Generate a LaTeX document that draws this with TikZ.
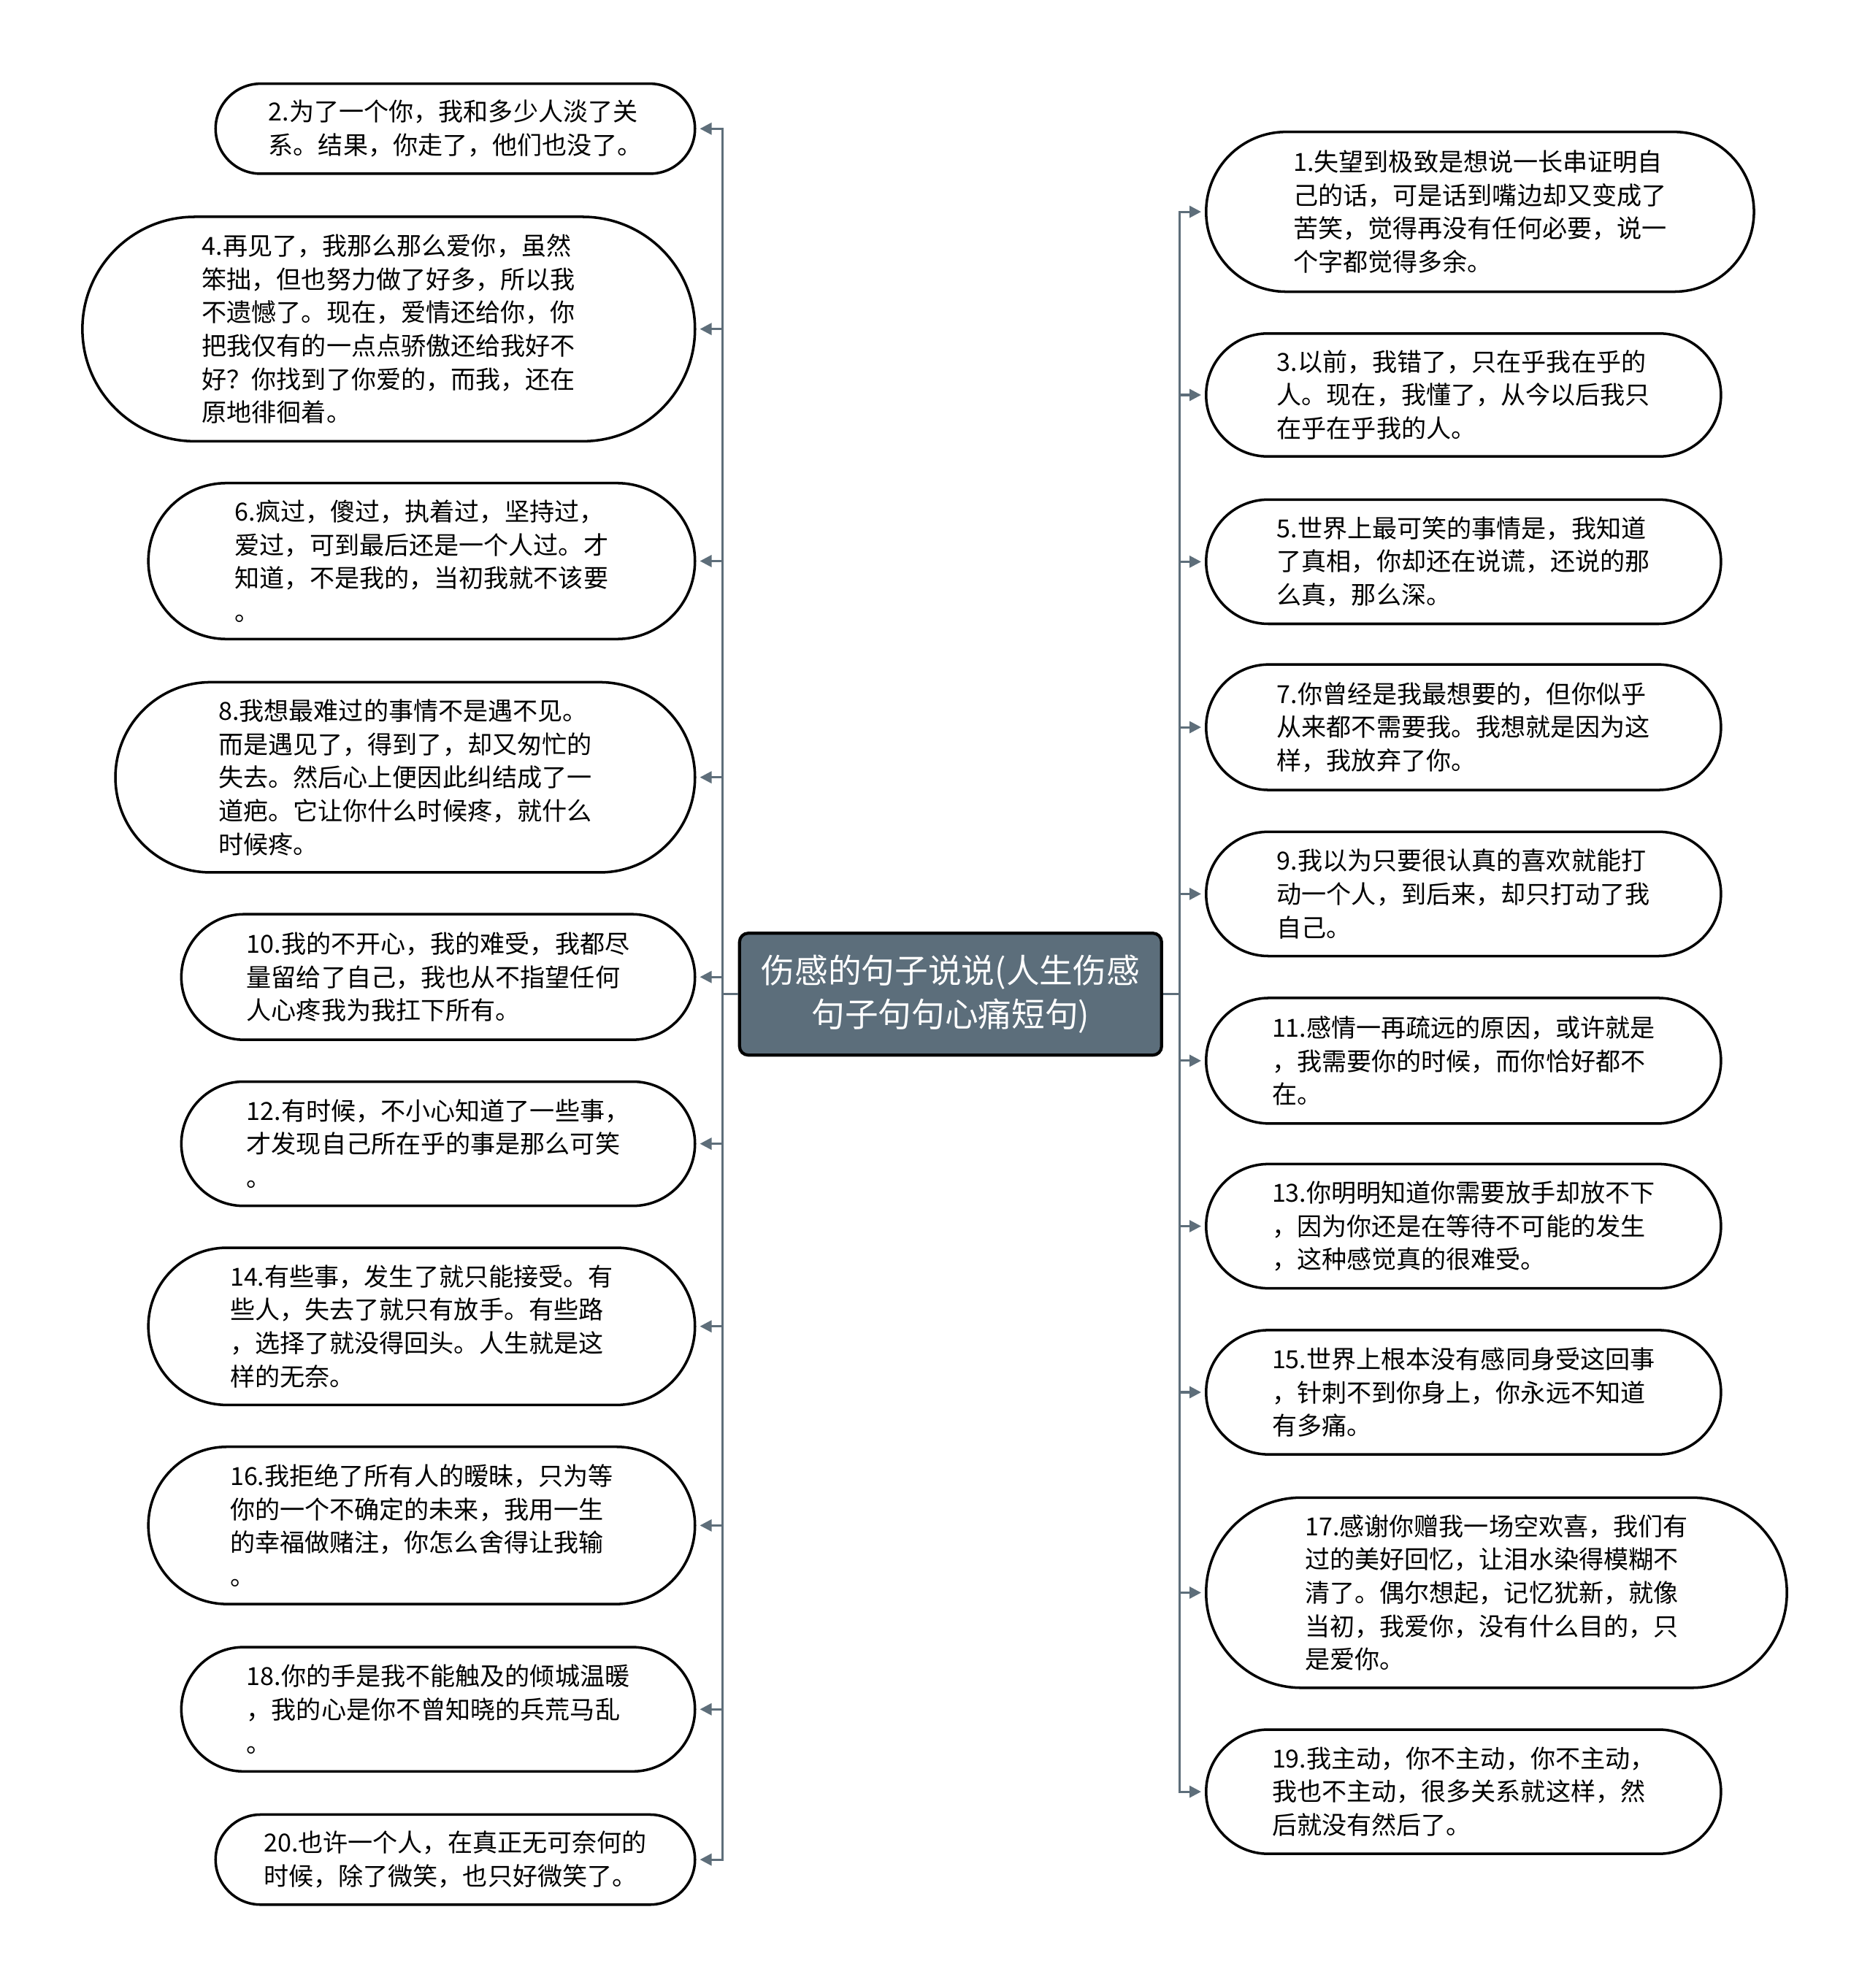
\documentclass[tikz,border=0pt]{standalone}
\usepackage{fontspec}
\newfontfamily\cjk{Noto Sans CJK SC}
\usepackage{xcolor}
\definecolor{tree-slate}{HTML}{5C6E7B}
\definecolor{tree-line}{HTML}{5E6E7A}
\usepackage{tikz}
\usetikzlibrary{calc,arrows.meta}

\begin{document}
\begin{tikzpicture}[
  font=\cjk,
  every node/.style={align=left},
  root/.style={rectangle, draw=black, line width=1.2pt, rounded corners=0.12cm, fill=tree-slate, text=white, align=center, inner sep=0pt, minimum width=5.78cm, minimum height=1.67cm, font=\cjk\fontsize{13pt}{16.8pt}\selectfont},
  leaf/.style 2 args={rectangle, draw=black, line width=1pt, fill=white, text=black, inner sep=0pt, minimum width=#1, minimum height=#2, rounded corners=0.5*#2, font=\cjk\fontsize{9.7pt}{13pt}\selectfont},
  link/.style={-{Triangle[length=0.16cm,width=0.16cm]}, line width=0.9pt, tree-line, shorten >=0.05cm}
]
  \useasboundingbox (0,0) rectangle (25.6,-27.23);

  \node[root] (root) at (13.018,-13.617) {伤感的句子说说(人生伤感\\句子句句心痛短句)};

  % left column
  \node[leaf={6.565cm}{1.233cm}, anchor=east] (n2) at (9.535,-1.763) {2.为了一个你，我和多少人淡了关\\系。结果，你走了，他们也没了。};
  \node[leaf={8.389cm}{3.074cm}, anchor=east] (n4) at (9.535,-4.507) {4.再见了，我那么那么爱你，虽然\\笨拙，但也努力做了好多，所以我\\不遗憾了。现在，爱情还给你，你\\把我仅有的一点点骄傲还给我好不\\好？你找到了你爱的，而我，还在\\原地徘徊着。};
  \node[leaf={7.486cm}{2.136cm}, anchor=east] (n6) at (9.535,-7.685) {6.疯过，傻过，执着过，坚持过，\\爱过，可到最后还是一个人过。才\\知道，不是我的，当初我就不该要\\。};
  \node[leaf={7.937cm}{2.605cm}, anchor=east] (n8) at (9.535,-10.647) {8.我想最难过的事情不是遇不见。\\而是遇见了，得到了，却又匆忙的\\失去。然后心上便因此纠结成了一\\道疤。它让你什么时候疼，就什么\\时候疼。};
  \node[leaf={7.034cm}{1.720cm}, anchor=east] (n10) at (9.535,-13.382) {10.我的不开心，我的难受，我都尽\\量留给了自己，我也从不指望任何\\人心疼我为我扛下所有。};
  \node[leaf={7.034cm}{1.702cm}, anchor=east] (n12) at (9.535,-15.666) {12.有时候，不小心知道了一些事，\\才发现自己所在乎的事是那么可笑\\。};
  \node[leaf={7.486cm}{2.154cm}, anchor=east] (n14) at (9.535,-18.167) {14.有些事，发生了就只能接受。有\\些人，失去了就只有放手。有些路\\，选择了就没得回头。人生就是这\\样的无奈。};
  \node[leaf={7.486cm}{2.154cm}, anchor=east] (n16) at (9.535,-20.894) {16.我拒绝了所有人的暧昧，只为等\\你的一个不确定的未来，我用一生\\的幸福做赌注，你怎么舍得让我输\\。};
  \node[leaf={7.034cm}{1.702cm}, anchor=east] (n18) at (9.535,-23.412) {18.你的手是我不能触及的倾城温暖\\，我的心是你不曾知晓的兵荒马乱\\。};
  \node[leaf={6.565cm}{1.233cm}, anchor=east] (n20) at (9.535,-25.471) {20.也许一个人，在真正无可奈何的\\时候，除了微笑，也只好微笑了。};

  % right column
  \node[leaf={7.503cm}{2.189cm}, anchor=west] (n1) at (16.50,-2.901) {1.失望到极致是想说一长串证明自\\己的话，可是话到嘴边却又变成了\\苦笑，觉得再没有任何必要，说一\\个字都觉得多余。};
  \node[leaf={7.051cm}{1.684cm}, anchor=west] (n3) at (16.50,-5.410) {3.以前，我错了，只在乎我在乎的\\人。现在，我懂了，从今以后我只\\在乎在乎我的人。};
  \node[leaf={7.051cm}{1.702cm}, anchor=west] (n5) at (16.50,-7.694) {5.世界上最可笑的事情是，我知道\\了真相，你却还在说谎，还说的那\\么真，那么深。};
  \node[leaf={7.051cm}{1.719cm}, anchor=west] (n7) at (16.50,-9.961) {7.你曾经是我最想要的，但你似乎\\从来都不需要我。我想就是因为这\\样，我放弃了你。};
  \node[leaf={7.051cm}{1.702cm}, anchor=west] (n9) at (16.50,-12.244) {9.我以为只要很认真的喜欢就能打\\动一个人，到后来，却只打动了我\\自己。};
  \node[leaf={7.051cm}{1.719cm}, anchor=west] (n11) at (16.50,-14.529) {11.感情一再疏远的原因，或许就是\\，我需要你的时候，而你恰好都不\\在。};
  \node[leaf={7.051cm}{1.702cm}, anchor=west] (n13) at (16.50,-16.795) {13.你明明知道你需要放手却放不下\\，因为你还是在等待不可能的发生\\，这种感觉真的很难受。};
  \node[leaf={7.051cm}{1.702cm}, anchor=west] (n15) at (16.50,-19.070) {15.世界上根本没有感同身受这回事\\，针刺不到你身上，你永远不知道\\有多痛。};
  \node[leaf={7.954cm}{2.605cm}, anchor=west] (n17) at (16.50,-21.815) {17.感谢你赠我一场空欢喜，我们有\\过的美好回忆，让泪水染得模糊不\\清了。偶尔想起，记忆犹新，就像\\当初，我爱你，没有什么目的，只\\是爱你。};
  \node[leaf={7.051cm}{1.702cm}, anchor=west] (n19) at (16.50,-24.541) {19.我主动，你不主动，你不主动，\\我也不主动，很多关系就这样，然\\后就没有然后了。};

  % connectors
  \draw[link] (root.west) -- ++(-0.209,0) |- (n2.east);
  \draw[link] (root.west) -- ++(-0.209,0) |- (n4.east);
  \draw[link] (root.west) -- ++(-0.209,0) |- (n6.east);
  \draw[link] (root.west) -- ++(-0.209,0) |- (n8.east);
  \draw[link] (root.west) -- ++(-0.209,0) |- (n10.east);
  \draw[link] (root.west) -- ++(-0.209,0) |- (n12.east);
  \draw[link] (root.west) -- ++(-0.209,0) |- (n14.east);
  \draw[link] (root.west) -- ++(-0.209,0) |- (n16.east);
  \draw[link] (root.west) -- ++(-0.209,0) |- (n18.east);
  \draw[link] (root.west) -- ++(-0.209,0) |- (n20.east);

  \draw[link] (root.east) -- ++(0.226,0) |- (n1.west);
  \draw[link] (root.east) -- ++(0.226,0) |- (n3.west);
  \draw[link] (root.east) -- ++(0.226,0) |- (n5.west);
  \draw[link] (root.east) -- ++(0.226,0) |- (n7.west);
  \draw[link] (root.east) -- ++(0.226,0) |- (n9.west);
  \draw[link] (root.east) -- ++(0.226,0) |- (n11.west);
  \draw[link] (root.east) -- ++(0.226,0) |- (n13.west);
  \draw[link] (root.east) -- ++(0.226,0) |- (n15.west);
  \draw[link] (root.east) -- ++(0.226,0) |- (n17.west);
  \draw[link] (root.east) -- ++(0.226,0) |- (n19.west);
\end{tikzpicture}
\end{document}
